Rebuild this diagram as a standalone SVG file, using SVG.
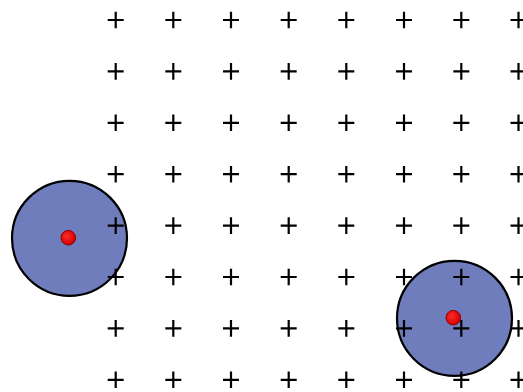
<svg xmlns="http://www.w3.org/2000/svg" width="523" height="392" viewBox="0 0 523 392">
<defs>
<radialGradient id="rd" cx="0.4" cy="0.4" r="0.6">
<stop offset="0" stop-color="#ff2a2a"/>
<stop offset="1" stop-color="#d40000"/>
</radialGradient>
<path id="p" d="M-8,0H8M0,-8.3V8.3" stroke="#000" stroke-width="2.2" fill="none"/>
</defs>
<style>
.c{fill:#6f7dbc;stroke:#000;stroke-width:2.2}
.d{fill:url(#rd);stroke:#8b0000;stroke-width:1}
</style>
<rect width="523" height="392" fill="#fff"/>
<g id="circle1"><circle class="c" cx="69.5" cy="238.3" r="57.5"/><circle class="d" cx="68.3" cy="237.7" r="7.3"/></g>
<g id="circle2"><circle class="c" cx="454.5" cy="318.3" r="57.5"/><circle class="d" cx="453.3" cy="317.7" r="7.3"/></g>
<g id="grid">
<g id="r0" transform="translate(0,20)"><use href="#p" x="115.7"/><use href="#p" x="173.3"/><use href="#p" x="231"/><use href="#p" x="288.7"/><use href="#p" x="346.3"/><use href="#p" x="404"/><use href="#p" x="461.3"/><use href="#p" x="518.5"/></g>
<g transform="translate(0,71.4)"><use href="#p" x="115.7"/><use href="#p" x="173.3"/><use href="#p" x="231"/><use href="#p" x="288.7"/><use href="#p" x="346.3"/><use href="#p" x="404"/><use href="#p" x="461.3"/><use href="#p" x="518.5"/></g>
<g transform="translate(0,122.8)"><use href="#p" x="115.7"/><use href="#p" x="173.3"/><use href="#p" x="231"/><use href="#p" x="288.7"/><use href="#p" x="346.3"/><use href="#p" x="404"/><use href="#p" x="461.3"/><use href="#p" x="518.5"/></g>
<g transform="translate(0,174.2)"><use href="#p" x="115.7"/><use href="#p" x="173.3"/><use href="#p" x="231"/><use href="#p" x="288.7"/><use href="#p" x="346.3"/><use href="#p" x="404"/><use href="#p" x="461.3"/><use href="#p" x="518.5"/></g>
<g transform="translate(0,225.6)"><use href="#p" x="115.7"/><use href="#p" x="173.3"/><use href="#p" x="231"/><use href="#p" x="288.7"/><use href="#p" x="346.3"/><use href="#p" x="404"/><use href="#p" x="461.3"/><use href="#p" x="518.5"/></g>
<g transform="translate(0,277)"><use href="#p" x="115.7"/><use href="#p" x="173.3"/><use href="#p" x="231"/><use href="#p" x="288.7"/><use href="#p" x="346.3"/><use href="#p" x="404"/><use href="#p" x="461.3"/><use href="#p" x="518.5"/></g>
<g transform="translate(0,328.4)"><use href="#p" x="115.7"/><use href="#p" x="173.3"/><use href="#p" x="231"/><use href="#p" x="288.7"/><use href="#p" x="346.3"/><use href="#p" x="404"/><use href="#p" x="461.3"/><use href="#p" x="518.5"/></g>
<g transform="translate(0,379.8)"><use href="#p" x="115.7"/><use href="#p" x="173.3"/><use href="#p" x="231"/><use href="#p" x="288.7"/><use href="#p" x="346.3"/><use href="#p" x="404"/><use href="#p" x="461.3"/><use href="#p" x="518.5"/></g>
</g>
</svg>
